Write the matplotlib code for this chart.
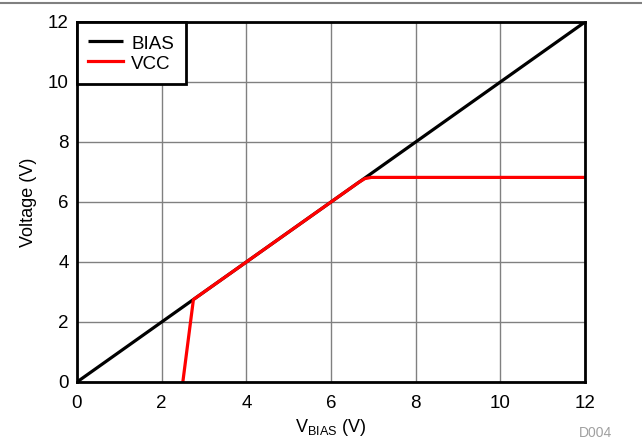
import matplotlib.pyplot as plt
from matplotlib.lines import Line2D

plt.rcParams["font.family"] = ["Liberation Sans", "DejaVu Sans"]
plt.rcParams["mathtext.fontset"] = "custom"
plt.rcParams["mathtext.rm"] = "Liberation Sans"

# data
bias_x = [0, 12]
bias_y = [0, 12]
vcc_x = [2.5, 2.75, 6.65, 6.8, 6.95, 12]
vcc_y = [0, 2.75, 6.65, 6.78, 6.82, 6.82]
ticks = [0, 2, 4, 6, 8, 10, 12]

fig = plt.figure(figsize=(6.42, 4.42), dpi=100)
ax = fig.add_axes([77 / 642, 1 - 382 / 442, 508 / 642, 360 / 442])

ax.plot(bias_x, bias_y, color="black", lw=2.3, label="BIAS", solid_capstyle="butt")
ax.plot(vcc_x, vcc_y, color="#ff0000", lw=2.3, label="VCC", solid_joinstyle="round")

ax.set_xlim(0, 12)
ax.set_ylim(0, 12)
ax.set_xticks(ticks)
ax.set_yticks(ticks)
ax.tick_params(length=0, labelsize=13.5, colors="black")
ax.tick_params(axis="x", pad=9)
ax.tick_params(axis="y", pad=6)
ax.grid(True, color="#808080", lw=1)
ax.set_axisbelow(True)
for s in ax.spines.values():
    s.set_linewidth(2)
    s.set_color("black")

ax.set_xlabel(r"$\mathregular{V_{BIAS}}$ (V)", fontsize=13, labelpad=4)
ax.set_ylabel("Voltage (V)", fontsize=13, labelpad=8)

leg = ax.legend(loc="upper left", fontsize=13.5, fancybox=False, framealpha=1,
                borderaxespad=0, handlelength=1.85, handletextpad=0.45,
                handleheight=1.2, borderpad=0.6, labelspacing=0.0)
leg.get_frame().set_edgecolor("black")
leg.get_frame().set_linewidth(2)

fig.add_artist(Line2D([0, 1], [1 - 3 / 442, 1 - 3 / 442], color="#808080", lw=1.5))
fig.text(612 / 642, 1 - 440 / 442, "D004", color="#a0a0a0", fontsize=10, ha="right", va="bottom")

fig.savefig("out.png", dpi=100)
